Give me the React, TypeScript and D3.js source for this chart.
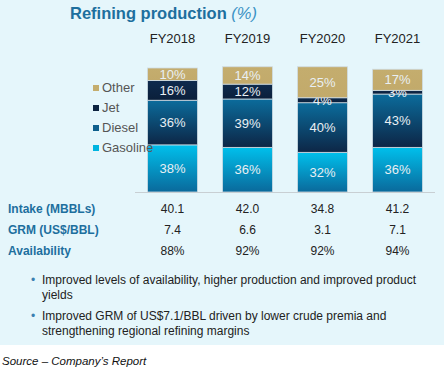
import { useEffect, useRef } from "react";
import * as d3 from "d3";

const years = ["FY2018", "FY2019", "FY2020", "FY2021"];
const products = ["Gasoline", "Diesel", "Jet", "Other"];
const gasoline = [38, 36, 32, 36];
const diesel = [36, 39, 40, 43];
const jet = [16, 12, 4, 3];
const other = [10, 14, 25, 17];

const intake = ["40.1", "42.0", "34.8", "41.2"];
const grm = ["7.4", "6.6", "3.1", "7.1"];
const availability = ["88%", "92%", "92%", "94%"];
const rowLabels = ["Intake (MBBLs)", "GRM (US$/BBL)", "Availability"];

const bullets = [
  ["Improved levels of availability, higher production and improved product", "yields"],
  ["Improved GRM of US$7.1/BBL driven by lower crude premia and", "strengthening regional refining margins"],
];

const gradients: Record<string, [string, string]> = {
  Gasoline: ["#00c0ec", "#0a699b"],
  Diesel: ["#0b6c9c", "#0d2646"],
  Jet: ["#0e2b4e", "#0b1f3a"],
  Other: ["#c4ad6e", "#c2aa6b"],
};
const legendColors: Record<string, string> = {
  Gasoline: "#00b4e0",
  Diesel: "#0e5f8c",
  Jet: "#0c2340",
  Other: "#c4ad6e",
};

function App() {
  const ref = useRef<SVGSVGElement>(null);

  useEffect(() => {
    const svg = d3.select(ref.current);
    svg.selectAll("*").remove();
    const font = "Arial, 'Liberation Sans', sans-serif";

    const table = years.map((y, i) => ({
      year: y,
      Gasoline: gasoline[i],
      Diesel: diesel[i],
      Jet: jet[i],
      Other: other[i],
    }));

    const x = d3.scaleBand().domain(years).range([135, 435])
      .paddingInner(1 / 3).paddingOuter(1 / 6);
    const y = d3.scaleLinear().domain([0, 100]).range([192, 68]);

    // light panel
    svg.append("rect").attr("x", 0).attr("y", 0).attr("width", 444).attr("height", 345)
      .attr("fill", "#e5f6fb");

    const defs = svg.append("defs");
    products.forEach((p) => {
      const g = defs.append("linearGradient").attr("id", "grad-" + p)
        .attr("x1", 0).attr("y1", 0).attr("x2", 0).attr("y2", 1);
      g.append("stop").attr("offset", "0%").attr("stop-color", gradients[p][0]);
      g.append("stop").attr("offset", "100%").attr("stop-color", gradients[p][1]);
    });

    // title
    const title = svg.append("text").attr("x", 70).attr("y", 19)
      .style("font-family", font).style("font-size", "16.5px").style("font-weight", "bold")
      .attr("fill", "#1d6f9e");
    title.append("tspan").text("Refining production ");
    title.append("tspan").text("(%)").style("font-style", "italic").style("font-weight", "normal")
      .attr("fill", "#3a92c4");

    // year headers
    svg.append("g").selectAll("text").data(years).join("text")
      .attr("x", (d) => x(d)! + x.bandwidth() / 2).attr("y", 43)
      .attr("text-anchor", "middle").style("font-family", font).style("font-size", "13px")
      .attr("fill", "#222").text((d) => d);

    const stacked = d3.stack<any>().keys(products)(table);

    const layers = svg.append("g").selectAll("g").data(stacked).join("g")
      .attr("fill", (d) => `url(#grad-${d.key})`);

    layers.selectAll("rect").data((d) => d).join("rect")
      .attr("x", (d) => x(d.data.year)!)
      .attr("y", (d) => y(d[1]))
      .attr("width", x.bandwidth())
      .attr("height", (d) => y(d[0]) - y(d[1]))
      .attr("stroke", "#cfdce4").attr("stroke-width", 0.8);

    layers.selectAll("text").data((d) => d.map((v) => ({ v, key: d.key }))).join("text")
      .attr("x", (d) => x(d.v.data.year)! + x.bandwidth() / 2)
      .attr("y", (d) => (y(d.v[0]) + y(d.v[1])) / 2 + 4.5)
      .attr("text-anchor", "middle").style("font-family", font).style("font-size", "13px")
      .attr("fill", "#e9eff3")
      .text((d) => d.v.data[d.key] + "%");

    // baseline
    svg.append("line").attr("x1", 135).attr("x2", 435).attr("y1", 192.5).attr("y2", 192.5)
      .attr("stroke", "#c8cfd3").attr("stroke-width", 1);

    // legend
    const legend = svg.append("g").selectAll("g").data(products.slice().reverse()).join("g")
      .attr("transform", (_d, i) => `translate(93, ${92 + i * 20})`);
    legend.append("rect").attr("x", 0).attr("y", -7).attr("width", 6).attr("height", 6)
      .attr("fill", (d) => legendColors[d]);
    legend.append("text").attr("x", 9).attr("y", 0).style("font-family", font)
      .style("font-size", "13px").attr("fill", "#555").text((d) => d);

    // table rows
    const rows = [intake, grm, availability];
    rows.forEach((vals, r) => {
      const yy = 213 + r * 21;
      svg.append("text").attr("x", 8).attr("y", yy).style("font-family", font)
        .style("font-size", "12px").style("font-weight", "bold").attr("fill", "#1d6f9e")
        .text(rowLabels[r]);
      svg.append("g").selectAll("text").data(vals).join("text")
        .attr("x", (_d, i) => x(years[i])! + x.bandwidth() / 2).attr("y", yy)
        .attr("text-anchor", "middle").style("font-family", font).style("font-size", "12px")
        .attr("fill", "#222").text((d) => d);
    });

    // bullets
    bullets.forEach((lines, b) => {
      const y0 = 284 + b * 36;
      svg.append("text").attr("x", 31).attr("y", y0).style("font-family", font)
        .style("font-size", "12px").attr("fill", "#3a7fb0").text("•");
      lines.forEach((ln, k) => {
        svg.append("text").attr("x", 42).attr("y", y0 + k * 15).style("font-family", font)
          .style("font-size", "12px").attr("fill", "#222").text(ln);
      });
    });

    // source
    svg.append("text").attr("x", 2).attr("y", 365).style("font-family", font)
      .style("font-size", "11.5px").style("font-style", "italic").attr("fill", "#111")
      .text("Source – Company’s Report");
  }, []);

  return (
    <svg ref={ref} width={445} height={371}
      style={{ position: "absolute", left: 0, top: 0, background: "#fff" }} />
  );
}

export default App;
